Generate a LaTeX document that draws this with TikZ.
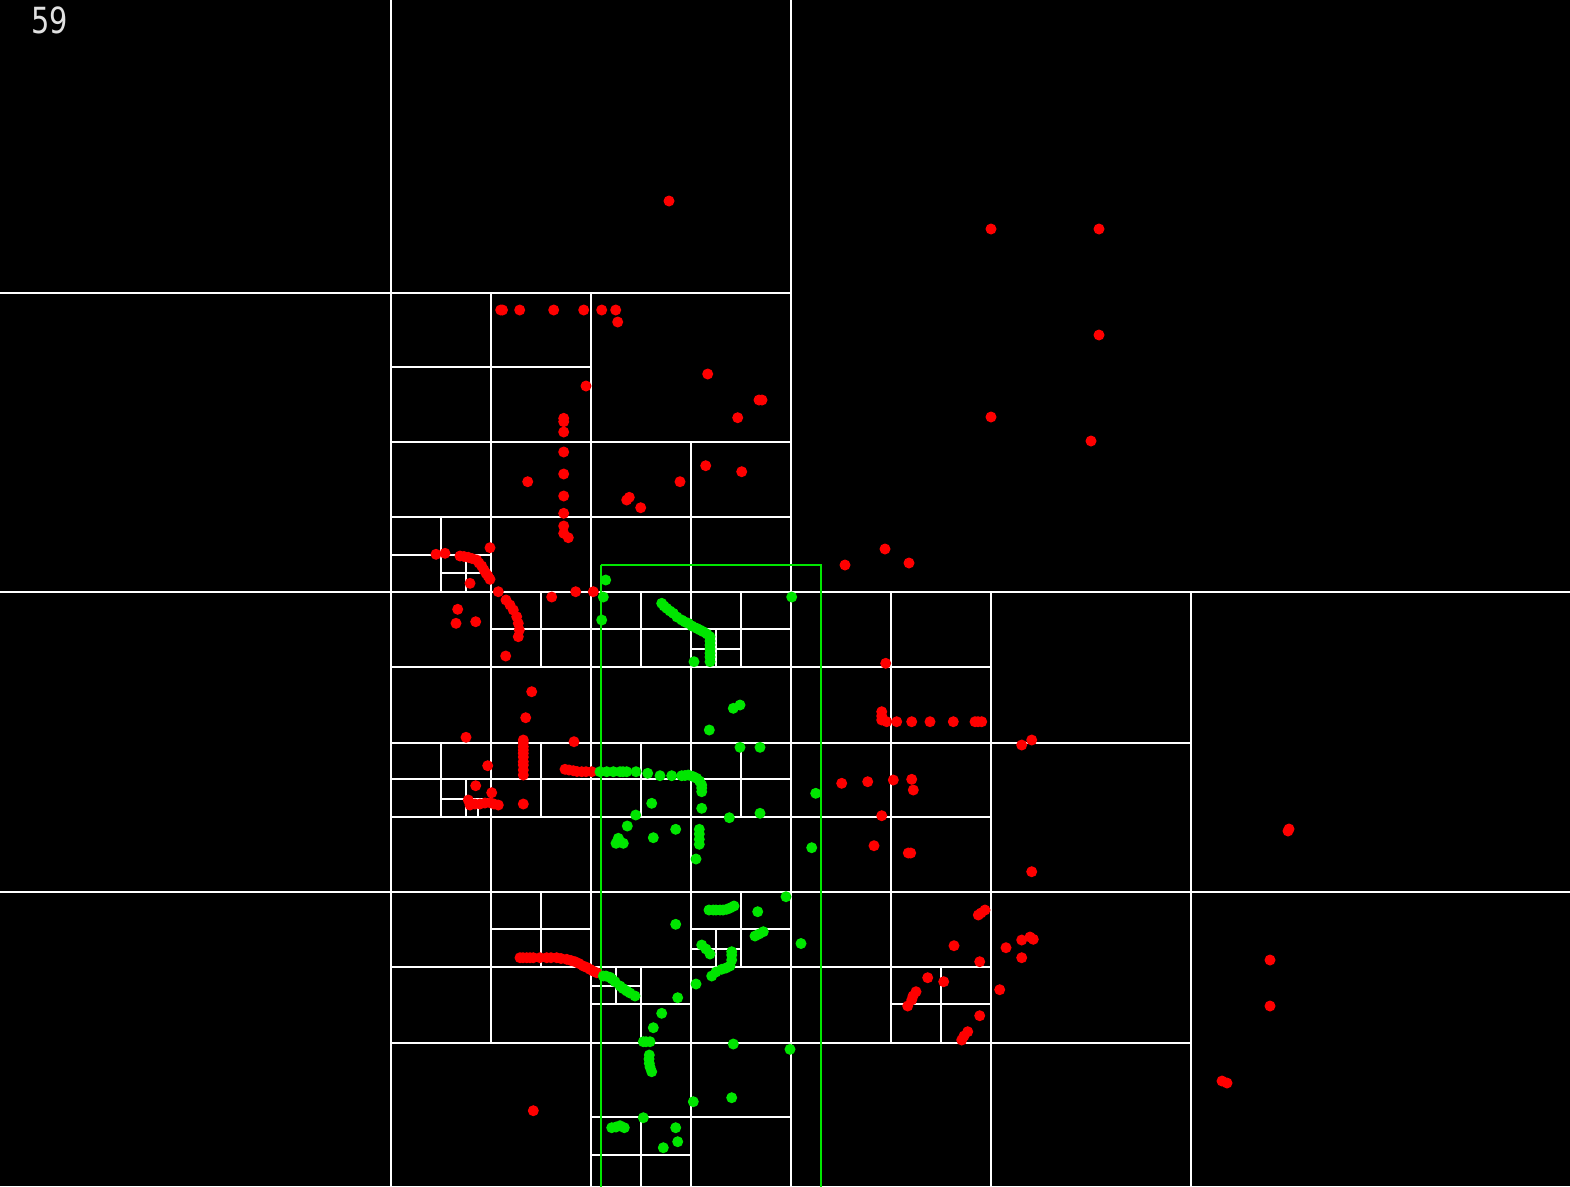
\documentclass[tikz,border=0pt]{standalone}
\usepackage{fontspec}
\newfontfamily\labelfont{DejaVu Sans}
\definecolor{dotred}{RGB}{255,0,0}
\definecolor{dotgreen}{RGB}{0,230,0}
\definecolor{lblgray}{RGB}{225,225,225}
\tikzset{
  gridline/.style={white,line width=2pt},
  redpt/.style={fill=dotred},
  greenpt/.style={fill=dotgreen},
  querybox/.style={draw=dotgreen,line width=2pt}
}
\begin{document}
\begin{tikzpicture}[x=1pt,y=-1pt]
\fill[black] (0,0) rectangle (1570,1186);
\useasboundingbox (0,0) rectangle (1570,1186);
% horizontal grid lines: y/x1/x2
\foreach \y/\a/\b in {293/0/791, 592/0/1570, 892/0/1570, 367/391/591, 442/391/791, 517/391/791,
  555/391/491, 573/441/491, 629/491/791, 649/691/741, 667/391/991, 743/391/1191, 779/391/791,
  799/441/491, 817/391/991, 929/491/591, 929/691/791, 949/691/741, 967/391/991, 986/591/641,
  1004/591/691, 1004/891/991, 1043/391/1191, 1117/591/791, 1155/591/691}
  \draw[gridline] (\a,\y) -- (\b,\y);
% vertical grid lines: x/y1/y2
\foreach \x/\a/\b in {391/0/1186, 791/0/1186, 1191/592/1186, 991/592/1186, 891/592/1043,
  491/293/1043, 591/293/1186, 691/442/1186, 441/517/592, 441/743/817, 466/555/592, 466/779/817,
  541/592/667, 541/743/817, 541/892/967, 641/592/667, 641/743/817, 641/967/1043, 641/1117/1186,
  741/592/667, 741/743/817, 741/892/967, 716/629/667, 716/929/967, 616/967/1004, 941/967/1043,
  478/808/817}
  \draw[gridline] (\x,\a) -- (\x,\b);
% query rectangle
\draw[querybox] (600.5,565) -- (820.5,565) -- (820.5,1200) (600.5,565) -- (600.5,1200);
% red points
\foreach \p in {(669,201),(991,229),(1099,229),(1099,335),(991,417),(1091,441),
 (500.7,310),(502.5,310),(519.7,310),(553.7,310),(583.7,310),(601.7,310),(615.7,310),(617.7,322),
 (707.7,374),(586,386),(759,400),(762,400),(737.7,417.7),
 (563.7,418.3),(563.7,421.7),(563.7,432),(563.7,452),(563.7,474),(527.7,481.7),(563.7,496),(680,481.7),
 (705.7,465.7),(741.7,471.7),(626.7,500),(629.3,497.3),(640.7,507.7),(563.7,513.3),(563.7,526),
 (563.7,533.3),(568.3,537.7),
 (490,547.7),(436,554.3),(445,553.3),(460,556),(464,556.5),(468.3,557.3),(472,558.5),(476.7,560),(479,563),
 (481.7,566),(484,570),(486,573.3),(488,576),(490,579.3),(470,583.3),(498.3,591.7),(506,600),(551.7,597),
 (575.7,591.7),(593.3,591.7),
 (510,605),(513.3,610),(516.7,616.7),(518.3,623.3),(519.3,630),(518.3,636.7),(457.7,609.3),(456,623.3),
 (475.7,621.7),(505.7,656),
 (531.7,691.7),(525.7,717.7),(466,737.3),(523.3,740),(523.3,743),(523.3,746.7),(523.3,750),(523.3,753.3),
 (523.3,757),(523.3,761.7),(523.3,765),(523.3,770),(523.3,775),(574,741.7),(487.7,765.7),(565,769.3),
 (569,770),(573.3,770.7),(577,771.5),(581.7,771.7),(586,771.7),(591.7,771.7),(475.7,785.7),(491.7,792.7),
 (468.3,800),(470,805),(475,804),(480,804),(485,803),(490,802.7),(494,804),(498.3,805),(523.3,804),
 (520,957.7),(523,957.7),(526.7,957.7),(530,957.7),(533.3,957.7),(540,957.7),(546.7,957.7),(551,957.7),
 (556.7,957.7),(561,958.5),(566.7,959.3),(571,960.5),(575,961.7),(579,963.5),(583.3,966),(587,967.5),
 (590,969.3),(593,971),(596.7,972.7),(533.3,1110.7),
 (885.7,663.3),(881.7,711.7),(881.7,716),(881.7,720),(886.7,721.7),(896.7,721.7),(911.7,721.7),(930,721.7),
 (953.3,721.7),(975,721.7),(978,721.7),(981.7,721.7),(1021.7,745),(1031.7,740),(841.7,783.3),(867.7,781.7),
 (893.3,780),(911.7,779.3),(913.3,790),(881.7,815.7),(874,845.7),(910.7,853),(908.3,853),(1031.7,871.7),
 (885,549),(909,563),(845,565),
 (978.3,915),(981,913),(985,910),(954,945.7),(1006,947.7),(1021.7,940),(1033.3,939.3),(1030,937),
 (1021.7,957.7),(979.7,961.7),(927.7,977.7),(943.7,981.7),(999.7,989.7),(916,991.7),(913,996),(911.7,1000),
 (907.7,1006),(979.7,1015.7),(967.7,1031.7),(964,1036),(961.7,1040),
 (1289,829),(1288,831),(1270,960),(1270,1006),(1222,1081),(1227,1083)}
  \fill[redpt] \p circle[radius=5.5];
% green points
\foreach \p in {(605.7,580),(603.3,597),(601.7,620),(791.7,597),
 (661.7,603.3),(664,606),(666.7,608.3),(670,611),(673.3,613.3),(677,617),(681.7,620),(685,622),(688.3,623.3),
 (692,626),(696.7,628.3),(700,630),(703.3,631.7),(707,634),(710,636.7),(710,641),(710,645),(710,649),
 (710,653.3),(710,657),(710,661.7),(694,661.7),
 (733.3,708.3),(740,705),(709.3,730),(740,747.3),(760,747.3),
 (600,771.7),(606.7,771.7),(613.3,771.7),(620,771.7),(623,771.7),(626.7,771.7),(636,771.7),(647.7,773.3),
 (660,775.7),(671.7,775.7),(681.7,775.7),(685,775.5),(688.3,775),(693,776.5),(696.7,778.3),(699.5,781),
 (701.7,785),(701.7,788),(701.7,791.7),(701.7,808.3),(651.7,803.3),(635.7,815),(627.3,826),(618.3,838.3),
 (616,843.3),(619,840),(623.3,843.3),(653.3,837.7),(675.7,829.3),(699.3,829.3),(699.3,834),(699.3,839.3),
 (699.3,844.3),(696,859),(729.3,817.7),(760,813.3),(815.7,793.3),(811.7,847.7),(786,896.7),
 (603.3,976),(606,976),(610,977.3),(612,979),(615,981.7),(620,986),(623,988.5),(626.7,991),(630,993),
 (635,996),
 (675.7,924.3),(709,910),(713.3,910),(716,910),(720,910),(723,910),(726.7,909.3),(730,908),(734,906),
 (757.7,911.7),(755,936),(759,934),(763.3,931.7),(701.7,945),(706,949),(710,954),(731.7,951.7),
 (731.7,955),(731.7,960),(730,966),(726,968),(721.7,969.3),(716,972),(711.7,976),(801,943.5),
 (696,984),(677.7,997.7),(661.7,1013.3),(653.3,1027.7),(643.3,1041.7),(646,1041.7),(650,1041.7),
 (649.3,1055),(649,1059),(649.3,1063.3),(650,1067),(651.7,1071.7),(733.3,1044),(790,1049.3),
 (693.3,1101.7),(731.7,1097.7),(643.3,1117.7),(611.7,1127.7),(616,1127),(620,1125.7),(624.3,1127.7),
 (675.7,1127.7),(677.7,1141.7),(663.3,1147.7)}
  \fill[greenpt] \p circle[radius=5.5];
% frame label
\node[anchor=base west,inner sep=0pt,text=lblgray,font=\labelfont\fontsize{36}{36}\selectfont] (framenum) at (31,33) {\scalebox{0.8}[1]{59}};
\end{tikzpicture}
\end{document}
